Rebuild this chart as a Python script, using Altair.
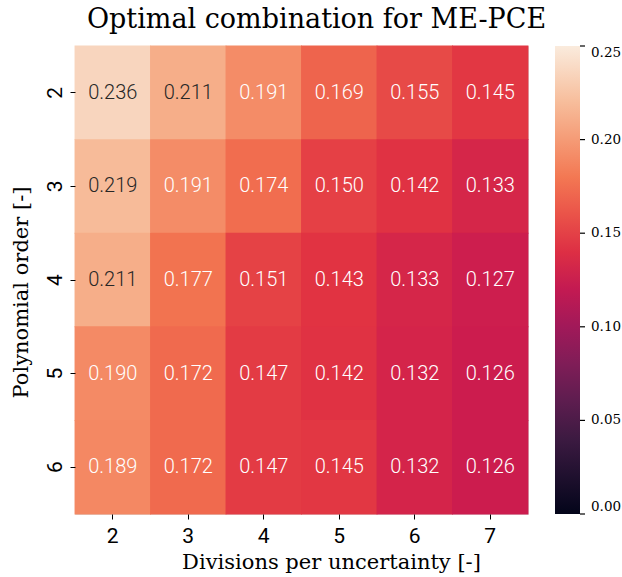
import altair as alt
import pandas as pd

# ---- data ----
orders = ["2", "3", "4", "5", "6"]
divisions = ["2", "3", "4", "5", "6", "7"]
row_2 = [0.236, 0.211, 0.191, 0.169, 0.155, 0.145]
row_3 = [0.219, 0.191, 0.174, 0.150, 0.142, 0.133]
row_4 = [0.211, 0.177, 0.151, 0.143, 0.133, 0.127]
row_5 = [0.190, 0.172, 0.147, 0.142, 0.132, 0.126]
row_6 = [0.189, 0.172, 0.147, 0.145, 0.132, 0.126]
rows_values = [row_2, row_3, row_4, row_5, row_6]
colorbar_ticks = [0.00, 0.05, 0.10, 0.15, 0.20, 0.25]

records = []
for o, vals in zip(orders, rows_values):
    for d, v in zip(divisions, vals):
        records.append({"order": o, "div": d, "value": v})
df = pd.DataFrame(records)
ticks_df = pd.DataFrame({"tick": colorbar_ticks})

# rocket colormap stops
vmax = 0.25
stop_pos = [0, 1 / 7, 2 / 7, 3 / 7, 0.5, 4 / 7, 5 / 7, 6 / 7, 1]
stop_colors = ["#03051a", "#35193e", "#701f57", "#ad1759", "#cb1b4f",
               "#e13342", "#f37651", "#f6b48f", "#faebdd"]
color_scale = alt.Scale(domain=[p * vmax for p in stop_pos], range=stop_colors,
                        interpolate="rgb", clamp=True)

SERIF = "DejaVu Serif"
SANS = "Roboto"

x_enc = alt.X("div:O", sort=divisions,
              scale=alt.Scale(paddingInner=0, paddingOuter=0),
              axis=alt.Axis(title="Divisions per uncertainty [-]", labelAngle=0,
                            labelFont=SANS, labelFontSize=21, labelColor="black",
                            labelPadding=6, tickSize=5, tickColor="black", domain=False,
                            titleFont=SERIF, titleFontSize=21, titleFontWeight="normal",
                            titleColor="black", titleX=256, titleY=54,
                            titleBaseline="alphabetic", titleAlign="center"))
y_enc = alt.Y("order:O", sort=orders,
              scale=alt.Scale(paddingInner=0, paddingOuter=0),
              axis=alt.Axis(title="Polynomial order [-]", labelAngle=270,
                            labelAlign="center", labelBaseline="bottom",
                            labelFont=SANS, labelFontSize=21, labelColor="black",
                            labelPadding=5, tickSize=5, tickColor="black", domain=False,
                            titleFont=SERIF, titleFontSize=21, titleFontWeight="normal",
                            titleColor="black", titleX=-48, titleY=246, titleAngle=270,
                            titleBaseline="alphabetic", titleAlign="center"))

base = alt.Chart(df).encode(x=x_enc, y=y_enc)

rect = base.mark_rect(width=alt.RelativeBandSize(1.012),
                      height=alt.RelativeBandSize(1.01)).encode(
    color=alt.Color("value:Q", scale=color_scale,
                    legend=alt.Legend(type="gradient", title=None, orient="none",
                                      legendX=480, legendY=0,
                                      direction="vertical", gradientLength=468,
                                      gradientThickness=25, gradientStrokeWidth=0,
                                      values=colorbar_ticks, format=".2f",
                                      labelFont=SERIF, labelFontSize=13.5,
                                      labelColor="black", labelOffset=11,
                                      labelBaseline="middle", labelOverlap=False,
                                      padding=0)),
)

text = base.mark_text(font=SANS, fontSize=20, fontWeight=300).encode(
    text=alt.Text("value:Q", format=".3f"),
    color=alt.condition("datum.value > 0.2", alt.value("#262626"), alt.value("white")),
)

heat = alt.layer(rect, text)

# small tick marks on the colorbar's right side
cbar_ticks = alt.Chart(ticks_df).mark_rule(color="black", strokeWidth=1.2).encode(
    y=alt.Y("tick:Q", scale=alt.Scale(domain=[0, vmax]), axis=None),
    x=alt.value(505),
    x2=alt.value(510),
)

chart = alt.layer(heat, cbar_ticks).resolve_scale(y="independent").properties(
    width=453, height=468,
    title=alt.TitleParams("Optimal combination for ME-PCE", font=SERIF, fontSize=27,
                          fontWeight="normal", color="black", anchor="middle",
                          frame="group", dx=15, dy=26, offset=16, baseline="alphabetic"),
    autosize=alt.AutoSizeParams(type="none"),
    padding={"left": 75, "top": 46, "right": 94, "bottom": 63},
).configure_view(stroke=None).configure(background="white")

chart.save("out.html", embed_options={"renderer": "svg", "actions": False})
